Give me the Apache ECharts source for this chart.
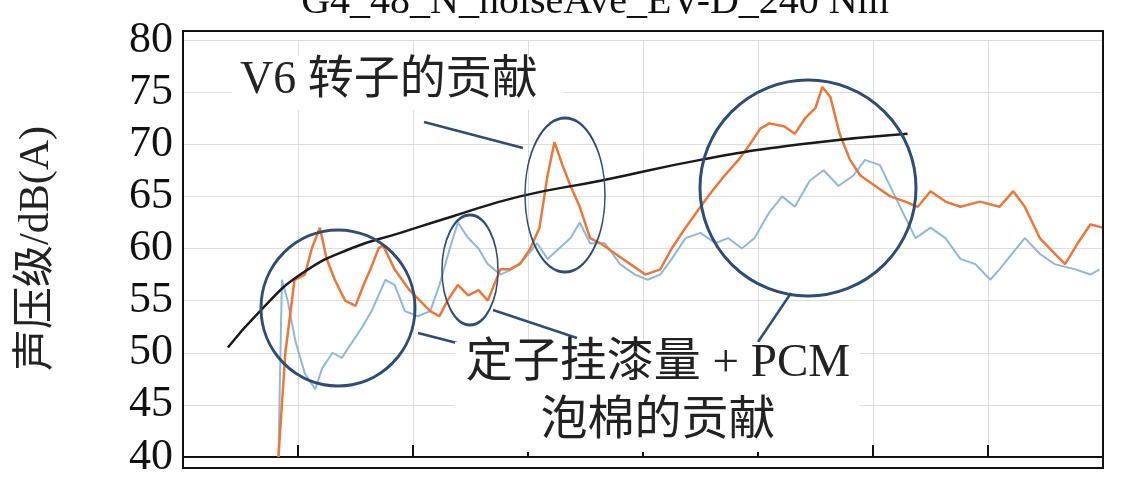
<!DOCTYPE html>
<html lang="en">
<head>
<meta charset="UTF-8">
<title>noise</title>
<script src="https://cdn.jsdelivr.net/npm/echarts@6/dist/echarts.min.js"></script>
<style>body{margin:0;background:#fff}</style>
</head>
<body>
<div id="chart" style="width:1124px;height:479px;"></div>
<script>
// x in grid units (0..8), y in dB(A)
const orangeX = [0.83,0.89,0.97,1.06,1.12,1.19,1.25,1.32,1.41,1.50,1.57,1.63,1.70,1.74,1.84,1.97,2.06,2.15,2.23,2.30,2.39,2.48,2.57,2.65,2.76,2.84,2.93,3.02,3.10,3.17,3.23,3.30,3.37,3.45,3.54,3.63,3.76,3.89,4.02,4.15,4.25,4.37,4.50,4.60,4.71,4.83,4.93,5.02,5.10,5.23,5.32,5.41,5.50,5.56,5.63,5.71,5.80,5.89,6.02,6.15,6.28,6.39,6.50,6.63,6.76,6.93,7.10,7.22,7.32,7.45,7.58,7.67,7.78,7.89,8.00];
const orangeY = [40,50,57,57.5,60,62,59,57,55,54.5,56.5,58,60,60.3,58,56,55,54,53.5,55,56.5,55.5,56,55,58,58,58.5,60,62,67,70.2,68,66,64,61,60.5,59.5,58.5,57.5,58,60,62,64,65.5,67,68.5,70,71.5,72,71.7,71,72.5,73.5,75.5,74.5,71,68.5,67,66,65,64.5,64,65.5,64.5,64,64.5,64,65.5,64,61,59.5,58.5,60.5,62.3,62];
const blueX = [0.83,0.86,0.91,0.98,1.06,1.15,1.21,1.30,1.38,1.47,1.56,1.64,1.76,1.84,1.93,2.04,2.15,2.23,2.32,2.39,2.48,2.57,2.65,2.76,2.86,2.97,3.08,3.17,3.27,3.37,3.45,3.54,3.67,3.80,3.93,4.04,4.15,4.25,4.37,4.50,4.63,4.74,4.86,4.97,5.10,5.21,5.32,5.45,5.57,5.70,5.83,5.93,6.06,6.17,6.28,6.37,6.50,6.63,6.76,6.89,7.02,7.10,7.21,7.32,7.45,7.58,7.76,7.89,7.97];
const blueY = [40,57,55,51,48,46.5,48.5,50,49.5,51,52.5,54,57,56.5,54,53.5,54,56.5,60,62.5,61,60,58.5,57.5,58,59,60.5,59,60,61,62.5,60.5,60.5,58.5,57.5,57,57.5,59,61,61.5,60.5,61,60,61,63.5,65,64,66.5,67.5,66,67,68.5,68,65.5,63,61,62,61,59,58.5,57,58,59.5,61,59.5,58.5,58,57.5,58];
const trendX = [0.39,0.67,1.02,1.46,1.89,2.32,2.93,3.63,4.50,5.37,6.30];
const trendY = [50.5,54,57.5,60,61.5,63,65,66.5,68.5,70,71];
const yTicks = [40,45,50,55,60,65,70,75,80];

const zip = (xs, ys) => xs.map((x, i) => [x, ys[i]]);
const serif = '"Liberation Serif","DejaVu Serif",serif';
const cjk = '"Liberation Serif","Noto Sans CJK SC",serif';
const ringColor = '#2f4d72';

const chart = echarts.init(document.getElementById('chart'));
function ring(cx, cy, rx, ry) {
    return {type: 'circle', shape: {cx: 0, cy: 0, r: ry}, x: cx, y: cy, scaleX: rx / ry, scaleY: 1,
        style: {fill: 'none', stroke: ringColor, lineWidth: 3, strokeNoScale: true}, z: 10};
}
function seg(x1, y1, x2, y2) {
    return {type: 'line', shape: {x1, y1, x2, y2}, style: {stroke: ringColor, lineWidth: 2.5}, z: 10};
}
chart.setOption({
    animation: false,
    grid: {left: 183, right: 21, top: 40, bottom: 11},
    xAxis: {
        type: 'value', min: 0, max: 8, interval: 1,
        axisLabel: {show: false},
        axisLine: {show: true, lineStyle: {color: '#111', width: 2}},
        axisTick: {show: true, inside: true, length: 12, lineStyle: {color: '#111', width: 2}},
        splitLine: {show: true, lineStyle: {color: '#ddd'}}
    },
    yAxis: {
        type: 'value', min: 40, max: 80, interval: 5,
        name: '声压级/dB(A)', nameLocation: 'middle', nameGap: 125,
        nameTextStyle: {fontFamily: cjk, fontSize: 42, color: '#222'},
        axisLabel: {fontFamily: serif, fontSize: 44, color: '#111', margin: 10,
            formatter: v => yTicks.includes(v) ? String(v) : ''},
        axisLine: {show: true, lineStyle: {color: '#111', width: 2}},
        axisTick: {show: false},
        splitLine: {show: true, lineStyle: {color: '#ddd'}}
    },
    graphic: [
        {type: 'rect', shape: {x: 183, y: 31, width: 920, height: 437}, style: {fill: 'none', stroke: '#111', lineWidth: 2}, z: 9},
        {type: 'text', x: 595, y: -18, style: {text: 'G4_48_N_noiseAve_EV-D_240 Nm', font: '40px ' + serif, fill: '#111', align: 'center'}, z: 1},
        ring(338, 308, 77, 78), ring(470, 270, 28, 55), ring(565, 195, 40, 77), ring(808, 188, 108, 108),
        seg(424, 122, 523, 148), seg(418, 333, 457, 343), seg(493, 310, 577, 338), seg(791, 293, 758, 342),
        {type: 'rect', shape: {x: 232, y: 56, width: 332, height: 54}, style: {fill: '#fff'}, z: 11},
        {type: 'text', x: 240, y: 58, style: {text: 'V6 转子的贡献', font: '46px ' + cjk, fill: '#222'}, z: 12},
        {type: 'rect', shape: {x: 455, y: 342, width: 405, height: 110}, style: {fill: '#fff'}, z: 11},
        {type: 'text', x: 658, y: 340, style: {text: '定子挂漆量 + PCM', font: '47px ' + cjk, fill: '#222', align: 'center'}, z: 12},
        {type: 'text', x: 658, y: 398, style: {text: '泡棉的贡献', font: '47px ' + cjk, fill: '#222', align: 'center'}, z: 12}
    ],
    series: [
        {type: 'line', data: zip(blueX, blueY), showSymbol: false, lineStyle: {color: '#8fb8da', width: 2}, z: 3},
        {type: 'line', data: zip(orangeX, orangeY), showSymbol: false, lineStyle: {color: '#e9783a', width: 2.5}, z: 4},
        {type: 'line', data: zip(trendX, trendY), showSymbol: false, smooth: true, lineStyle: {color: '#1a1a1a', width: 2.5}, z: 5}
    ]
});
</script>
</body>
</html>
